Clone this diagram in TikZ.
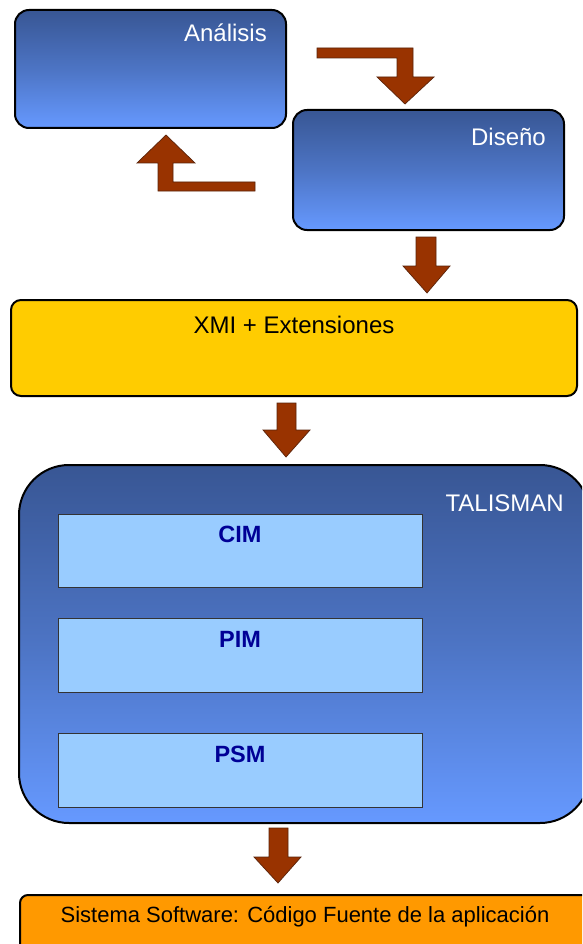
\documentclass[tikz,border=0pt]{standalone}
\usepackage{fontspec}
\setmainfont{Liberation Sans}
\usetikzlibrary{calc}
\definecolor{bluetop}{RGB}{56,86,148}
\definecolor{bluebot}{RGB}{102,153,255}
\definecolor{arrowbrown}{RGB}{153,51,0}
\definecolor{arrowedge}{RGB}{90,35,10}
\definecolor{xmiyellow}{RGB}{255,204,0}
\definecolor{sisorange}{RGB}{255,153,0}
\definecolor{innerblue}{RGB}{153,204,255}
\definecolor{innertext}{RGB}{0,0,150}
\tikzset{
  bluebox/.style={draw=black, line width=2pt, top color=bluetop, bottom color=bluebot, middle color=bluetop!55!bluebot},
  innerbox/.style={draw=black!80, line width=0.9pt, fill=innerblue},
  blockarrow/.style={fill=arrowbrown, draw=arrowedge, line width=0.7pt, line join=miter},
  whitelabel/.style={text=white, font=\fontsize{24}{28}\selectfont, inner sep=0pt},
  blacklabel/.style={text=black, font=\fontsize{24}{28}\selectfont, inner sep=0pt},
  smalllabel/.style={text=black, font=\fontsize{22}{26}\selectfont, inner sep=0pt},
  innerlabel/.style={text=innertext, font=\fontsize{23.5}{26}\selectfont\bfseries, inner sep=0pt}
}
\begin{document}
\begin{tikzpicture}[x=1pt, y=-1pt]
\useasboundingbox (0,0) rectangle (582,944);
\clip (0,0) rectangle (582,944);
\fill[white] (0,0) rectangle (582,944);

% Analisis
\path[bluebox, rounded corners=14pt] (15,10) rectangle (286,128);
\coordinate (ana) at (150,69);
\node[whitelabel, anchor=base east] (anatext) at (267,42) {Análisis};

% Diseno
\path[bluebox, rounded corners=14pt] (293,110) rectangle (564,230);
\coordinate (dis) at (428,170);
\node[whitelabel, anchor=base east] (distext) at (546,146) {Diseño};

% XMI
\path[draw=black, line width=2pt, fill=xmiyellow, rounded corners=10pt] (11,300) rectangle (577,396);
\node[blacklabel, anchor=base] (xmitext) at (294,333) {XMI + Extensiones};

% TALISMAN
\path[bluebox, rounded corners=50pt] (19,465) rectangle (590,823);
\node[whitelabel, anchor=base east] (taltext) at (564,511) {TALISMAN};

\path[innerbox] (58,514) rectangle (422,587);
\node[innerlabel, anchor=base] (cim) at (240,542) {CIM};
\path[innerbox] (58,618) rectangle (422,692);
\node[innerlabel, anchor=base] (pim) at (240,647) {PIM};
\path[innerbox] (58,733) rectangle (422,807);
\node[innerlabel, anchor=base] (psm) at (240,762) {PSM};

% Sistema
\path[draw=black, line width=2pt, fill=sisorange, rounded corners=8pt] (20,895) rectangle (620,970);
\node[smalllabel, anchor=base] (sistext) at (305,922) {Sistema Software: Código Fuente de la aplicación};

% Arrows
\draw[blockarrow] (317,48) -- (413,48) -- (413,77) -- (434,77) -- (405,104) -- (377,77) -- (397,77) -- (397,58) -- (317,58) -- cycle;
\draw[blockarrow] (166,135) -- (195,163) -- (173,163) -- (173,182) -- (255,182) -- (255,191) -- (158,191) -- (158,163) -- (137,163) -- cycle;
\draw[blockarrow] (416,237) -- (436,237) -- (436,266) -- (450,266) -- (427,293) -- (403,266) -- (416,266) -- cycle;
\draw[blockarrow] (277,403) -- (296,403) -- (296,430) -- (310,430) -- (286,457) -- (263,430) -- (277,430) -- cycle;
\draw[blockarrow] (269,828) -- (288,828) -- (288,857) -- (301,857) -- (278,883) -- (254,857) -- (269,857) -- cycle;
\end{tikzpicture}
\end{document}
